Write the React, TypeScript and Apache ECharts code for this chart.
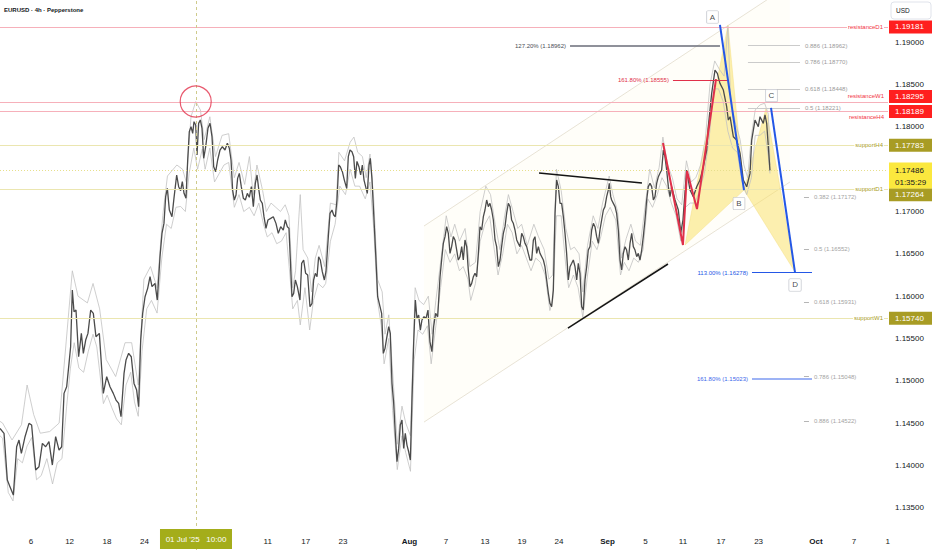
import React, { useEffect, useRef } from "react";
import * as echarts from "echarts";

const FONT = '"Liberation Sans", Arial, sans-serif';

// x = trading-day index, y = price
const X_MIN = 0.722;
const X_MAX = 95.0;
const Y_MIN = 1.13;
const Y_MAX = 1.195;

const xTickDays = [4.01, 8.11, 12.08, 16.07, 29.15, 33.19, 37.14, 44.19, 48.07, 52.21, 56.14, 60.07, 65.22, 69.26, 73.23, 77.27, 81.26, 87.35, 91.39, 94.98];
const xTickLabels = ["6", "12", "18", "24", "11", "17", "23", "Aug", "7", "13", "19", "24", "Sep", "5", "11", "17", "23", "Oct", "7", "1"];
const monthLabels = ["Aug", "Sep", "Oct"];
const yTickValues = [1.135, 1.14, 1.145, 1.15, 1.155, 1.16, 1.165, 1.17, 1.18, 1.185, 1.19];

const titleText = "EURUSD · 4h · Pepperstone";
const currencyText = "USD";

const closeSeries: [number, number][] = [
  [0.72,1.14437],[1.15,1.14378],[1.5,1.13826],[1.78,1.13748],[2.14,1.13649],[2.49,1.1422],[2.74,1.14299],[2.99,1.14142],[3.38,1.14339],[3.8,1.14497],
  [4.08,1.14477],[4.51,1.13945],[4.86,1.13984],[5.22,1.1426],[5.57,1.1422],[5.92,1.1428],[6.28,1.14004],[6.63,1.14339],[6.99,1.14181],[7.27,1.1422],
  [7.52,1.14851],[7.8,1.1493],[8.05,1.15205],[8.22,1.15402],[8.4,1.16072],[8.58,1.15816],[8.79,1.15836],[9.07,1.15284],[9.36,1.1556],[9.57,1.15324],
  [9.82,1.15481],[10.06,1.1556],[10.35,1.15836],[10.63,1.15796],[10.91,1.15521],[11.27,1.1556],[11.69,1.14851],[12.05,1.15048],[12.4,1.1493],[12.75,1.14851],
  [13.04,1.14772],[13.32,1.14733],[13.57,1.14575],[13.89,1.15087],[14.1,1.15245],[14.38,1.15324],[14.66,1.15284],[14.95,1.14969],[15.23,1.1489],[15.44,1.14693],
  [15.66,1.15481],[15.87,1.15796],[16.12,1.15993],[16.4,1.16092],[16.65,1.1623],[16.86,1.16112],[17.18,1.16151],[17.42,1.15954],[17.71,1.16466],[17.92,1.16742],
  [18.13,1.1686],[18.31,1.17175],[18.49,1.17274],[18.7,1.17018],[18.98,1.16939],[19.19,1.17156],[19.48,1.17432],[19.69,1.17294],[19.9,1.17246],[20.08,1.17353],
  [20.26,1.17215],[20.47,1.17156],[20.65,1.17609],[20.82,1.17944],[21.0,1.18003],[21.18,1.17924],[21.32,1.18062],[21.5,1.18023],[21.64,1.17668],[21.81,1.18042],
  [21.99,1.18082],[22.17,1.17983],[22.35,1.17629],[22.56,1.17766],[22.8,1.17983],[23.02,1.18042],[23.23,1.17885],[23.41,1.1753],[23.62,1.17471],[23.83,1.17609],
  [24.08,1.17727],[24.33,1.17766],[24.61,1.17727],[24.86,1.17806],[25.07,1.17747],[25.25,1.17609],[25.42,1.17254],[25.6,1.17136],[25.78,1.17195],[25.95,1.17392],
  [26.13,1.17451],[26.34,1.17294],[26.56,1.17156],[26.77,1.17136],[26.98,1.17215],[27.19,1.17168],[27.41,1.17294],[27.62,1.17057],[27.83,1.17333],[28.01,1.17432],
  [28.18,1.17274],[28.36,1.17136],[28.57,1.17097],[28.75,1.16939],[28.96,1.16801],[29.17,1.169],[29.46,1.16919],[29.74,1.16939],[30.02,1.1686],[30.27,1.16742],
  [30.52,1.16821],[30.8,1.16781],[31.01,1.169],[31.23,1.16821],[31.4,1.16801],[31.58,1.16348],[31.72,1.15994],[31.9,1.16033],[32.08,1.16191],[32.29,1.16112],
  [32.57,1.15954],[32.75,1.16388],[32.96,1.16427],[33.17,1.1627],[33.39,1.1625],[33.63,1.15875],[33.85,1.15915],[34.02,1.16191],[34.2,1.1627],[34.38,1.1623],
  [34.55,1.16466],[34.73,1.16427],[34.94,1.16289],[35.16,1.16191],[35.33,1.16289],[35.58,1.16703],[35.76,1.16978],[35.97,1.17018],[36.15,1.16959],[36.32,1.16939],
  [36.5,1.17136],[36.68,1.1755],[36.85,1.1753],[37.07,1.17471],[37.28,1.17372],[37.53,1.17274],[37.7,1.17648],[37.88,1.17727],[38.09,1.17707],[38.27,1.17648],
  [38.45,1.17392],[38.62,1.17593],[38.83,1.1753],[39.01,1.17432],[39.19,1.1755],[39.37,1.17372],[39.54,1.17294],[39.72,1.17215],[39.9,1.1755],[40.04,1.17629],
  [40.21,1.17392],[40.43,1.169],[40.64,1.16427],[40.82,1.15994],[41.03,1.15895],[41.24,1.15797],[41.42,1.15324],[41.6,1.15383],[41.77,1.15501],[41.99,1.15639],
  [42.16,1.1556],[42.34,1.14969],[42.52,1.14733],[42.69,1.14378],[42.87,1.14043],[43.05,1.14201],[43.22,1.14477],[43.4,1.14536],[43.58,1.14201],[43.75,1.14378],
  [43.93,1.1424],[44.11,1.14161],[44.29,1.14063],[44.46,1.14772],[44.64,1.15442],[44.82,1.15954],[44.99,1.15737],[45.17,1.15777],[45.35,1.15599],[45.52,1.15718],
  [45.74,1.15757],[45.95,1.15737],[46.16,1.15836],[46.37,1.15461],[46.58,1.15344],[46.76,1.15639],[46.97,1.15797],[47.19,1.15757],[47.44,1.1623],[47.61,1.16427],
  [47.79,1.16624],[47.97,1.16703],[48.14,1.16821],[48.32,1.16742],[48.5,1.16506],[48.67,1.16585],[48.85,1.16703],[49.03,1.16664],[49.21,1.16545],[49.38,1.16427],
  [49.56,1.16467],[49.74,1.16585],[49.91,1.16427],[50.09,1.16664],[50.27,1.16585],[50.44,1.16309],[50.62,1.16112],[50.8,1.16151],[50.98,1.1623],[51.15,1.1627],
  [51.33,1.1623],[51.51,1.16506],[51.68,1.16821],[51.86,1.16782],[52.04,1.16939],[52.21,1.17018],[52.39,1.17136],[52.57,1.17058],[52.74,1.17097],[52.92,1.17018],
  [53.1,1.169],[53.28,1.16664],[53.45,1.16585],[53.63,1.16348],[53.81,1.16427],[53.98,1.16585],[54.16,1.16742],[54.34,1.16821],[54.51,1.16979],[54.69,1.17097],
  [54.87,1.17058],[55.04,1.169],[55.22,1.16861],[55.4,1.16782],[55.58,1.16664],[55.75,1.16624],[55.93,1.16585],[56.11,1.16742],[56.28,1.16703],[56.46,1.16624],
  [56.64,1.16585],[56.81,1.16506],[56.99,1.16427],[57.17,1.16427],[57.35,1.16664],[57.52,1.16703],[57.7,1.16506],[57.88,1.16585],[58.05,1.16506],[58.41,1.16427],
  [58.58,1.16348],[58.76,1.16191],[58.94,1.16033],[59.11,1.15915],[59.29,1.15876],[59.47,1.16073],[59.65,1.16979],[59.82,1.17373],[60.0,1.17294],[60.18,1.17097],
  [60.35,1.17097],[60.53,1.16939],[60.71,1.16742],[60.88,1.16506],[61.06,1.16191],[61.24,1.16348],[61.42,1.16388],[61.59,1.16427],[61.77,1.16348],[61.95,1.16191],
  [62.12,1.16388],[62.3,1.1627],[62.48,1.15876],[62.65,1.15836],[62.83,1.16191],[63.01,1.16348],[63.18,1.16545],[63.36,1.16585],[63.54,1.16782],[63.72,1.16861],
  [63.89,1.16821],[64.07,1.16703],[64.25,1.16624],[64.42,1.16782],[64.6,1.169],[64.78,1.17018],[64.95,1.17058],[65.13,1.17176],[65.31,1.17255],[65.41,1.17333],
  [65.56,1.17176],[65.66,1.17136],[65.84,1.17097],[66.02,1.17058],[66.19,1.16979],[66.37,1.16782],[66.55,1.16427],[66.72,1.16309],[66.9,1.16506],[67.08,1.16585],
  [67.25,1.16545],[67.43,1.16427],[67.61,1.16624],[67.79,1.16742],[67.96,1.16585],[68.14,1.16545],[68.32,1.16467],[68.49,1.16506],[68.67,1.16427],[68.85,1.16545],
  [69.02,1.16703],[69.2,1.169],[69.38,1.17136],[69.55,1.17294],[69.73,1.17333],[69.91,1.17294],[70.09,1.17136],[70.26,1.17176],[70.44,1.17333],[70.62,1.17412],
  [70.79,1.17452],[70.97,1.17491],[71.15,1.17727],[71.32,1.17648],[71.5,1.17491],[71.68,1.17294],[71.86,1.17176],[72.03,1.17293],[72.39,1.17136],[72.74,1.17018],
  [73.0,1.1675],[73.23,1.169],[73.62,1.1749],[73.98,1.17254],[74.33,1.17175],[74.69,1.17293],[75.04,1.17372],[75.39,1.1753],[75.75,1.17727],[75.92,1.18003],
  [76.28,1.18397],[76.63,1.18672],[76.88,1.18633],[77.16,1.18515],[77.52,1.18436],[77.87,1.18239],[78.05,1.18081],[78.23,1.18121],[78.58,1.17884],[78.93,1.17845],
  [79.29,1.17687],[79.64,1.17372],[80.0,1.17293],[80.35,1.17451],[80.53,1.17845],[80.88,1.18081],[81.23,1.18003],[81.41,1.18121],[81.76,1.18042],[81.94,1.18141],
  [82.12,1.18042],[82.47,1.17486],
];

const highSeries: [number, number][] = [
  [0.72,1.1452],[1,1.1450],[2,1.1430],[3,1.1448],[3.6,1.1495],[4.3,1.1460],[5,1.1438],[6,1.1440],[7,1.1450],[8.4,1.1630],[9,1.1600],[10,1.1592],[10.6,1.1615],
  [11.3,1.1585],[12,1.1525],[13,1.1505],[14,1.1545],[14.7,1.1545],[15.4,1.1495],[16,1.1620],[16.7,1.1635],[17.4,1.1610],[18,1.1695],[18.5,1.1742],[19.5,1.1755],
  [20.1,1.1750],[20.5,1.1735],[21,1.1812],[21.5,1.1830],[22,1.1820],[22.4,1.1785],[23,1.1812],[23.6,1.1765],[24.3,1.1790],[25,1.1792],[25.6,1.1740],[26.1,1.1758],
  [26.7,1.1732],[27.2,1.1765],[27.6,1.1720],[28,1.1755],[28.6,1.1725],[29,1.1700],[29.5,1.1710],[30,1.1705],[30.5,1.1700],[31,1.1708],[31.4,1.1695],[31.8,1.1610],
  [32.1,1.1630],[32.6,1.1720],[32.9,1.1655],[33.4,1.1645],[33.8,1.1605],[34.2,1.1645],[34.6,1.1660],[35.2,1.1635],[35.8,1.1710],[36.4,1.1708],[36.7,1.1770],
  [37.3,1.1760],[37.9,1.1782],[38.3,1.1788],[38.7,1.1770],[39.2,1.1765],[39.6,1.1740],[40,1.1768],[40.4,1.1715],[40.8,1.1620],[41.3,1.1605],[41.6,1.1555],
  [42,1.1578],[42.5,1.1495],[42.9,1.1425],[43.4,1.1470],[43.8,1.1450],[44.3,1.1435],[44.8,1.1610],[45.2,1.1595],[45.7,1.1590],[46.2,1.1600],[46.6,1.1555],[47,1.1595],
  [47.5,1.1640],[48.1,1.1695],[48.6,1.1670],[49,1.1685],[49.5,1.1665],[50.1,1.1680],[50.6,1.1635],[51.2,1.1640],[51.7,1.1700],[52.3,1.1730],[52.8,1.1720],
  [53.3,1.1685],[53.8,1.1655],[54.3,1.1695],[54.7,1.1720],[55.2,1.1700],[55.7,1.1680],[56.1,1.1685],[56.7,1.1660],[57.4,1.1685],[57.9,1.1670],[58.5,1.1655],[59,1.1620],
  [59.4,1.1625],[59.8,1.1750],[60.3,1.1725],[60.8,1.1680],[61.3,1.1655],[61.7,1.1658],[62.2,1.1650],[62.6,1.1605],[63.1,1.1660],[63.7,1.1695],[64.2,1.1680],
  [64.7,1.1710],[65.4,1.1742],[65.8,1.1720],[66.3,1.1700],[66.7,1.1645],[67.2,1.1668],[67.7,1.1685],[68.2,1.1665],[68.7,1.1660],[69.2,1.1705],[69.7,1.1750],
  [70.2,1.1728],[70.7,1.1752],[71.1,1.1788],[71.6,1.1755],[72.1,1.1740],[72.6,1.1715],[73.1,1.1708],[73.6,1.1760],[74.1,1.1735],[74.6,1.1740],[75.1,1.1755],
  [75.6,1.1785],[76.1,1.1850],[76.6,1.1878],[77.1,1.1868],[77.6,1.1860],[78,1.1919],[78.3,1.1830],[78.8,1.1805],[79.3,1.1785],[79.7,1.1755],[80.1,1.1740],
  [80.5,1.1790],[80.9,1.1820],[81.4,1.1826],[81.9,1.1828],[82.3,1.1815],[82.47,1.1755],
];

const lowSeries: [number, number][] = [
  [0.72,1.1435],[1,1.1432],[1.6,1.1368],[2.1,1.1358],[2.6,1.1408],[3.1,1.1403],[3.6,1.1423],[4.1,1.1433],[4.6,1.1383],[5.1,1.1388],[5.7,1.1408],[6.3,1.1378],
  [6.8,1.1403],[7.3,1.1408],[7.8,1.1470],[8.2,1.1515],[8.6,1.1545],[9.1,1.1515],[9.6,1.1510],[10.1,1.1535],[10.6,1.1555],[11,1.1540],[11.7,1.1473],[12.1,1.1483],
  [12.6,1.1468],[13.1,1.1455],[13.6,1.1448],[14.1,1.1495],[14.6,1.1510],[15,1.1475],[15.4,1.1458],[15.8,1.1535],[16.3,1.1585],[16.8,1.1595],[17.4,1.1580],
  [17.9,1.1645],[18.4,1.1685],[18.9,1.1680],[19.4,1.1705],[19.9,1.1706],[20.4,1.1700],[20.8,1.1745],[21.3,1.1775],[21.7,1.1750],[22.2,1.1774],[22.5,1.1750],
  [23,1.1775],[23.5,1.1735],[24,1.1745],[24.5,1.1755],[25,1.1758],[25.6,1.1705],[26.1,1.1720],[26.6,1.1700],[27.2,1.1705],[27.7,1.1695],[28.2,1.1710],[28.7,1.1685],
  [29.1,1.1670],[29.6,1.1675],[30.1,1.1662],[30.6,1.1665],[31.1,1.1675],[31.5,1.1625],[31.8,1.1585],[32.3,1.1595],[32.6,1.1566],[33.1,1.1610],[33.6,1.1560],
  [34,1.1595],[34.5,1.1615],[35,1.1610],[35.3,1.1615],[35.8,1.1665],[36.3,1.1685],[36.8,1.1730],[37.4,1.1720],[37.9,1.1750],[38.4,1.1730],[38.9,1.1730],
  [39.5,1.1715],[40,1.1735],[40.4,1.1680],[40.8,1.1595],[41.2,1.1565],[41.5,1.1520],[42,1.1550],[42.4,1.1465],[42.9,1.1395],[43.4,1.1435],[43.8,1.1415],
  [44.3,1.1393],[44.7,1.1525],[45.1,1.1560],[45.6,1.1555],[46.1,1.1565],[46.5,1.1520],[47,1.1565],[47.5,1.1610],[48,1.1655],[48.5,1.1640],[49,1.1650],
  [49.5,1.1630],[49.9,1.1635],[50.4,1.1620],[50.7,1.1595],[51.2,1.1615],[51.7,1.1665],[52.2,1.1685],[52.7,1.1695],[53.2,1.1655],[53.6,1.1625],[54.1,1.1650],
  [54.6,1.1685],[55.1,1.1675],[55.6,1.1650],[56.1,1.1660],[56.6,1.1645],[57.1,1.1630],[57.6,1.1645],[58.1,1.1640],[58.6,1.1625],[59.1,1.1583],[59.4,1.1595],
  [59.8,1.1695],[60.3,1.1695],[60.8,1.1635],[61.1,1.1610],[61.6,1.1625],[62.1,1.1610],[62.6,1.1575],[63.1,1.1625],[63.6,1.1665],[64.1,1.1655],[64.5,1.1670],
  [65,1.1695],[65.5,1.1705],[66.1,1.1690],[66.6,1.1625],[67,1.1640],[67.5,1.1630],[68,1.1645],[68.5,1.1640],[69,1.1655],[69.5,1.1715],[70,1.1705],[70.5,1.1720],
  [71,1.1740],[71.5,1.1730],[72,1.1710],[72.5,1.1695],[73,1.1665],[73.5,1.1705],[74,1.1710],[74.5,1.1710],[75,1.1725],[75.5,1.1745],[76,1.1785],[76.5,1.1845],
  [77,1.1845],[77.5,1.1830],[78,1.1795],[78.5,1.1775],[79,1.1770],[79.5,1.1735],[80,1.1720],[80.5,1.1740],[80.9,1.1790],[81.4,1.1790],[81.9,1.1795],
  [82.3,1.1765],[82.47,1.1745],
];

// horizontal levels
const resistanceNames = ["resistanceD1", "resistanceW1", "resistanceH4"];
const resistancePrices = [1.19181, 1.18295, 1.18189];
const supportNames = ["supportH4", "supportD1", "supportW1"];
const supportPrices = [1.17783, 1.17264, 1.1574];
const lastPrice = 1.17486;
const countdownText = "01:35:29";

// crosshair
const crosshairDay = 21.53;
const crosshairText = "01 Jul '25   10:00";
const circledHigh: [number, number] = [21.5, 1.183];

// channel
const channelUpper: [number, number][] = [[45.74, 1.16829], [84.59, 1.19681]];
const channelLower: [number, number][] = [[45.74, 1.14512], [84.59, 1.17349]];

// triangle trendlines
const trendUpper: [number, number][] = [[57.95, 1.17455], [68.88, 1.17337]];
const trendLower: [number, number][] = [[61.02, 1.15623], [71.64, 1.1638]];

// red zigzag
const redPath: [number, number][] = [[71.11, 1.1781], [73.23, 1.16604], [73.66, 1.17479], [74.72, 1.1703], [76.74, 1.18566]];

// harmonic pattern X A B C D
const patX: [number, number] = [73.45, 1.16604];
const patA: [number, number] = [78.01, 1.19205];
const patB: [number, number] = [79.71, 1.17254];
const patC: [number, number] = [82.05, 1.18224];
const patD: [number, number] = [85.13, 1.16285];

// blue legs
const blueAB: [number, number][] = [[77.16, 1.19205], [79.71, 1.17254]];
const blueCD: [number, number][] = [[82.58, 1.18224], [85.13, 1.16278]];

// point letters
const letterNames = ["A", "B", "C", "D"];
const letterPoints: [number, number][] = [[76.37, 1.19299], [79.18, 1.17095], [82.63, 1.18371], [85.13, 1.16132]];

// fib extension labels (label left of segment)
const extTexts = ["127.20% (1.18962)", "161.80% (1.18555)", "113.00% (1.16278)", "161.80% (1.15023)"];
const extPrices = [1.18962, 1.18555, 1.16278, 1.15023];
const extFrom = [61.24, 72.17, 80.56, 80.56];
const extTo = [77.16, 78.01, 86.93, 86.93];

// fib retracement upper group (label right of segment)
const retUpText = ["0.886 (1.18962)", "0.786 (1.18770)", "0.618 (1.18448)", "0.5 (1.18221)"];
const retUpPrices = [1.18962, 1.1877, 1.18448, 1.18221];
const retUpFrom = 80.13;
const retUpTo = 85.66;

// fib retracement lower group
const retLowText = ["0.382 (1.17172)", "0.5 (1.16552)", "0.618 (1.15931)", "0.786 (1.15048)", "0.886 (1.14522)"];
const retLowPrices = [1.17172, 1.16552, 1.15931, 1.15048, 1.14522];
const retLowFrom = 86.08;
const retLowTo = 86.61;

const RED = "#f23645";
const OLIVE = "#a89c24";
const TAG_RED = "#ff1f1f";
const BLUE = "#2457e6";

function buildOption(): any {
  const seg = (a: [number, number], b: [number, number]) => [{ coord: a }, { coord: b }];
  const markData: any[] = [];
  resistancePrices.forEach((p) => markData.push({ yAxis: p, lineStyle: { color: "#f6b0ba", width: 1, type: "solid" }, label: { show: false } }));
  supportPrices.forEach((p) => markData.push({ yAxis: p, lineStyle: { color: "#ebe6b0", width: 1, type: "solid" }, label: { show: false } }));
  markData.push({ yAxis: lastPrice, lineStyle: { color: "#e7df8c", width: 1, type: [1, 2] }, label: { show: false } });
  markData.push({ xAxis: crosshairDay, lineStyle: { color: "#cfcb8c", width: 1, type: [3, 3] }, label: { show: false } });

  const extColors = ["#6a6d78", "#e0304a", BLUE, "#9db3f5"];
  const extLabelColors = ["#4a4d57", "#e0304a", BLUE, "#3b66ea"];
  const extWidths = [1.5, 1.2, 1.2, 2.2];
  extTexts.forEach((t, i) => {
    const s = seg([extFrom[i], extPrices[i]], [extTo[i], extPrices[i]]);
    (s[0] as any).lineStyle = { color: extColors[i], width: extWidths[i], type: "solid" };
    (s[0] as any).label = { show: true, position: "start", distance: 4, formatter: t, color: extLabelColors[i], fontSize: 6, fontFamily: FONT };
    markData.push(s);
  });
  retUpText.forEach((t, i) => {
    const s = seg([retUpFrom, retUpPrices[i]], [retUpTo, retUpPrices[i]]);
    (s[0] as any).lineStyle = { color: "#cbcbcb", width: 1, type: "solid" };
    (s[0] as any).label = { show: true, position: "end", distance: 5, formatter: t, color: "#9a9a9a", fontSize: 6, fontFamily: FONT };
    markData.push(s);
  });
  retLowText.forEach((t, i) => {
    const s = seg([retLowFrom, retLowPrices[i]], [retLowTo, retLowPrices[i]]);
    (s[0] as any).lineStyle = { color: "#b5b5b5", width: 1, type: "solid" };
    (s[0] as any).label = { show: true, position: "end", distance: 5, formatter: t, color: "#a3a3a3", fontSize: 6, fontFamily: FONT };
    markData.push(s);
  });

  const lineSeries = (data: [number, number][], color: string, width: number, z: number) => ({
    type: "line",
    data,
    showSymbol: false,
    symbol: "none",
    silent: true,
    z,
    lineStyle: { color, width },
  });

  return {
    animation: false,
    backgroundColor: "#ffffff",
    textStyle: { fontFamily: FONT },
    grid: { left: 0, right: 44, top: 0, bottom: 0, containLabel: false },
    xAxis: {
      type: "value",
      min: X_MIN,
      max: X_MAX,
      axisLine: { show: false },
      axisTick: { show: false },
      splitLine: { show: false },
      axisLabel: {
        customValues: xTickDays,
        inside: true,
        margin: 5,
        fontSize: 8,
        color: "#131722",
        fontFamily: FONT,
        formatter: (v: number) => {
          const i = xTickDays.findIndex((t) => Math.abs(t - v) < 1e-6);
          if (i < 0) return "";
          const s = xTickLabels[i];
          return monthLabels.includes(s) ? `{m|${s}}` : s;
        },
        rich: { m: { fontWeight: "bold", fontSize: 8, color: "#131722", fontFamily: FONT } },
      },
    },
    yAxis: {
      type: "value",
      position: "right",
      min: Y_MIN,
      max: Y_MAX,
      scale: true,
      axisLine: { show: false },
      axisTick: { show: false },
      splitLine: { show: false },
      axisLabel: {
        customValues: yTickValues,
        margin: 7,
        fontSize: 8,
        color: "#131722",
        fontFamily: FONT,
        formatter: (v: number) => v.toFixed(5),
      },
    },
    series: [
      {
        type: "custom",
        silent: true,
        clip: true,
        z: 1,
        data: [[50, 1.16]],
        renderItem: (_p: any, api: any) => {
          const u0 = api.coord(channelUpper[0]);
          const u1 = api.coord(channelUpper[1]);
          const l0 = api.coord(channelLower[0]);
          const l1 = api.coord(channelLower[1]);
          return {
            type: "group",
            children: [
              { type: "polygon", shape: { points: [u0, u1, l1, l0] }, style: { fill: "rgba(255, 236, 175, 0.08)" } },
              { type: "line", shape: { x1: u0[0], y1: u0[1], x2: u1[0], y2: u1[1] }, style: { stroke: "#e2dccc", lineWidth: 0.8 } },
              { type: "line", shape: { x1: l0[0], y1: l0[1], x2: l1[0], y2: l1[1] }, style: { stroke: "#e2dccc", lineWidth: 0.8 } },
            ],
          };
        },
      },
      {
        type: "custom",
        silent: true,
        clip: true,
        z: 2,
        data: [[50, 1.16]],
        renderItem: (_p: any, api: any) => {
          const x = api.coord(patX), a = api.coord(patA), b = api.coord(patB), c = api.coord(patC), d = api.coord(patD);
          const st = { fill: "rgba(249, 224, 95, 0.5)", stroke: "rgba(240, 215, 110, 0.6)", lineWidth: 0.6 };
          return {
            type: "group",
            children: [
              { type: "polygon", shape: { points: [x, a, b] }, style: st },
              { type: "polygon", shape: { points: [b, c, d] }, style: st },
            ],
          };
        },
      },
      lineSeries(highSeries, "#c2c2c2", 0.8, 3),
      lineSeries(lowSeries, "#c2c2c2", 0.8, 3),
      {
        ...lineSeries(closeSeries, "#4b4b4b", 1.3, 4),
        markLine: { silent: true, symbol: ["none", "none"], precision: 6, animation: false, data: markData },
      },
      lineSeries(trendUpper, "#151515", 1.5, 5),
      lineSeries(trendLower, "#151515", 1.5, 5),
      lineSeries(redPath, "#e0304a", 2, 5),
      lineSeries(blueAB, BLUE, 2, 5),
      lineSeries(blueCD, BLUE, 2, 5),
      {
        type: "scatter",
        silent: true,
        z: 6,
        data: [circledHigh],
        symbol: "circle",
        symbolSize: 31,
        itemStyle: { color: "rgba(0,0,0,0)", borderColor: "#e2314b", borderWidth: 1.2 },
      },
      {
        type: "scatter",
        silent: true,
        z: 7,
        data: letterPoints.map((p, i) => [p[0], p[1], letterNames[i]]),
        symbolSize: 1,
        itemStyle: { color: "rgba(0,0,0,0)" },
        label: {
          show: true,
          position: "inside",
          formatter: (p: any) => p.data[2],
          fontSize: 8,
          fontFamily: FONT,
          color: "#131722",
          backgroundColor: "#ffffff",
          borderColor: "#b2b5be",
          borderWidth: 0.6,
          borderRadius: 1,
          padding: [2, 3, 2, 3],
        },
      },
    ],
  };
}

export default function App() {
  const ref = useRef<HTMLDivElement>(null);
  useEffect(() => {
    document.body.style.margin = "0";
    const chart = echarts.init(ref.current as HTMLDivElement, null, { renderer: "svg" });
    chart.setOption(buildOption());

    const py = (p: number) => (chart.convertToPixel({ gridIndex: 0 }, [X_MIN, p]) as number[])[1];
    const cx = (d: number) => (chart.convertToPixel({ gridIndex: 0 }, [d, Y_MIN]) as number[])[0];
    const els: any[] = [];
    const text = (t: string, x: number, y: number, color: string, size: number, align: string, extra: any = {}) => ({
      type: "text",
      x,
      y,
      z: 100,
      silent: true,
      style: {
        text: t,
        fill: color,
        fontSize: size,
        fontFamily: FONT,
        align,
        textAlign: align,
        verticalAlign: "middle",
        textVerticalAlign: "middle",
        ...extra,
      },
    });
    const rect = (x: number, y: number, w: number, h: number, fill: string, extra: any = {}) => ({
      type: "rect",
      z: 99,
      silent: true,
      shape: { x, y, width: w, height: h, r: extra.r || 0 },
      style: { fill, stroke: extra.stroke, lineWidth: extra.lineWidth || 0 },
    });

    // title and currency
    els.push(text(titleText, 4, 10, "#131722", 6, "left", { fontWeight: "bold" }));
    els.push(rect(891, 2, 40, 17, "#ffffff", { r: 3, stroke: "#e0e3eb", lineWidth: 1 }));
    els.push(text(currencyText, 896, 10.5, "#131722", 6.5, "left"));

    // level labels
    const labelX = 884;
    const rY = resistancePrices.map(py);
    const sY = supportPrices.map(py);
    els.push(text(resistanceNames[0], labelX, rY[0], RED, 6, "right", { backgroundColor: "#fff", padding: [0, 1] }));
    els.push(text(resistanceNames[1], labelX, rY[1] - 6, RED, 6, "right"));
    els.push(text(resistanceNames[2], labelX, rY[2] + 6, RED, 6, "right"));
    supportNames.forEach((n, i) => els.push(text(n, labelX, sY[i], OLIVE, 6, "right", { backgroundColor: "#fff", padding: [0, 1] })));

    // price tags
    const tag = (label: string, cy: number, bg: string) => {
      els.push(rect(889, cy - 6.5, 43, 13, bg));
      els.push(text(label, 895, cy, "#ffffff", 8, "left"));
    };
    tag(resistancePrices[0].toFixed(5), rY[0], TAG_RED);
    tag(resistancePrices[1].toFixed(5), rY[1] - 5.5, TAG_RED);
    tag(resistancePrices[2].toFixed(5), rY[2] + 0.5, TAG_RED);
    tag(supportPrices[0].toFixed(5), sY[0], OLIVE);
    const ly = py(lastPrice);
    tag(supportPrices[1].toFixed(5), Math.max(sY[1] + 5.5, ly + 24), OLIVE);
    tag(supportPrices[2].toFixed(5), sY[2], OLIVE);
    els.push(rect(889, ly - 8, 43, 26, "#fbe83e"));
    els.push(text(lastPrice.toFixed(5), 895, ly, "#131722", 8, "left"));
    els.push(text(countdownText, 895, ly + 12, "#131722", 8, "left"));

    // crosshair time label
    const chx = cx(crosshairDay);
    els.push(rect(chx - 36, 529, 72, 20, "#a4ad1a"));
    els.push(text(crosshairText, chx, 539, "#ffffff", 8, "center"));

    chart.setOption({ graphic: { elements: els } });
    return () => chart.dispose();
  }, []);
  return <div ref={ref} style={{ width: 932, height: 550 }} />;
}
